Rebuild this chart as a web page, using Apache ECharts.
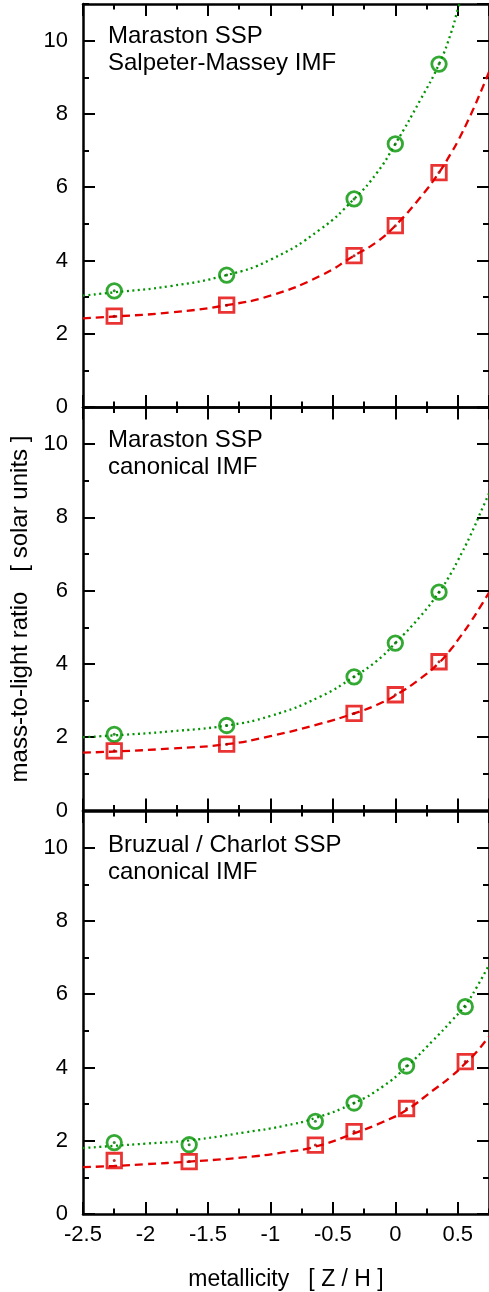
<!DOCTYPE html>
<html>
<head>
<meta charset="utf-8">
<script src="https://cdn.jsdelivr.net/npm/echarts@6/dist/echarts.min.js"></script>
<style>
html,body{margin:0;padding:0;background:#fff;}
#c{width:489px;height:1292px;}
</style>
</head>
<body>
<div id="c"></div>
<script>
// ---- data ----
const panelTitles = ['Maraston SSP\nSalpeter-Massey IMF', 'Maraston SSP\ncanonical IMF', 'Bruzual / Charlot SSP\ncanonical IMF'];
const xTickLabels = ['-2.5', '-2', '-1.5', '-1', '-0.5', '0', '0.5'];
const yTickLabels = ['0', '2', '4', '6', '8', '10'];

// Maraston metallicities
const maraX = [-2.25, -1.35, -0.33, 0, 0.35];
const p1Green = [3.17, 3.60, 5.68, 7.18, 9.36];
const p1Red = [2.48, 2.78, 4.13, 4.95, 6.40];
const p2Green = [2.08, 2.32, 3.65, 4.57, 5.96];
const p2Red = [1.63, 1.81, 2.65, 3.16, 4.06];
// Bruzual / Charlot metallicities
const bcX = [-2.25, -1.65, -0.64, -0.33, 0.09, 0.56];
const p3Green = [1.95, 1.89, 2.53, 3.03, 4.04, 5.66];
const p3Red = [1.46, 1.43, 1.88, 2.25, 2.88, 4.16];

// fit curves
const fitX12 = [-2.5, -2.25, -1.8, -1.35, -1.0, -0.6, -0.33, -0.15, 0, 0.2, 0.35, 0.45, 0.5, 0.6, 0.7, 0.75];
const p1GreenFit = [3.04, 3.13, 3.30, 3.60, 4.02, 4.85, 5.68, 6.38, 7.18, 8.38, 9.36, 10.25, 10.85, 11.95, 13.1, 13.7];
const p1RedFit = [2.42, 2.47, 2.58, 2.78, 3.04, 3.58, 4.13, 4.50, 4.95, 5.72, 6.40, 6.95, 7.25, 7.95, 8.73, 9.15];
const p2GreenFit = [2.00, 2.05, 2.16, 2.32, 2.58, 3.11, 3.65, 4.08, 4.57, 5.30, 5.96, 6.50, 6.82, 7.50, 8.27, 8.65];
const p2RedFit = [1.58, 1.61, 1.69, 1.81, 2.03, 2.37, 2.65, 2.88, 3.14, 3.60, 4.03, 4.42, 4.65, 5.13, 5.67, 5.95];
const fitX3 = [-2.5, -2.25, -2.0, -1.65, -1.2, -0.9, -0.64, -0.33, -0.1, 0.09, 0.3, 0.45, 0.56, 0.65, 0.75];
const p3GreenFit = [1.80, 1.86, 1.92, 2.01, 2.23, 2.40, 2.62, 3.03, 3.48, 4.02, 4.73, 5.27, 5.70, 6.18, 6.80];
const p3RedFit = [1.28, 1.31, 1.36, 1.43, 1.55, 1.68, 1.84, 2.20, 2.51, 2.84, 3.37, 3.76, 4.11, 4.42, 4.85];

// ---- styling / layout ----
const GREEN = '#009400';
const RED = '#e50000';
const FONT = '"Liberation Sans", Arial, Helvetica, sans-serif';
const gridTops = [4, 407.5, 811];
const titleTops = [23, 426.5, 831.5];
const GRID_LEFT = 83, GRID_W = 409, GRID_H = 403;
const XMIN = -2.5, XMAX = 0.75, YMIN = 0, YMAX = 11;

const panels = [
  {mx: maraX, g: p1Green, r: p1Red, fx: fitX12, gf: p1GreenFit, rf: p1RedFit},
  {mx: maraX, g: p2Green, r: p2Red, fx: fitX12, gf: p2GreenFit, rf: p2RedFit},
  {mx: bcX, g: p3Green, r: p3Red, fx: fitX3, gf: p3GreenFit, rf: p3RedFit}
];

const zip = (xs, ys) => xs.map((x, i) => [x, ys[i]]);

const grid = [], xAxis = [], yAxis = [], series = [], title = [];
const lineStyle = {color: '#000', width: 2.5};

panels.forEach((p, i) => {
  grid.push({left: GRID_LEFT, top: gridTops[i], width: GRID_W, height: GRID_H, containLabel: false});
  title.push({
    text: panelTitles[i], left: 108, top: titleTops[i], padding: 0,
    textStyle: {fontFamily: FONT, fontSize: 24, fontWeight: 'normal', color: '#000', lineHeight: 27}
  });
  const isBottom = i === 2;
  const base = xAxis.length;
  xAxis.push({
    type: 'value', gridIndex: i, min: XMIN, max: XMAX, interval: 0.5, position: 'bottom',
    axisLine: {show: true, onZero: false, lineStyle},
    axisTick: {show: true, inside: true, length: 12, lineStyle: {color: '#000', width: 2}},
    splitLine: {show: false},
    axisLabel: {
      show: isBottom, showMaxLabel: false, margin: 10, color: '#000', fontFamily: FONT, fontSize: 22,
      formatter: v => { const k = Math.round((v - XMIN) / 0.5); return (Math.abs(v - (XMIN + k * 0.5)) < 1e-6 && k < xTickLabels.length) ? xTickLabels[k] : ''; }
    },
    name: isBottom ? 'metallicity   [ Z / H ]' : '',
    nameLocation: 'middle', nameGap: 54,
    nameTextStyle: {fontFamily: FONT, fontSize: 23, color: '#000'}
  });
  xAxis.push({
    type: 'value', gridIndex: i, min: XMIN, max: XMAX, interval: 0.25, position: 'bottom',
    axisLine: {show: false, onZero: false},
    axisTick: {show: true, inside: true, length: 5.5, lineStyle: {color: '#000', width: 2}},
    splitLine: {show: false}, axisLabel: {show: false}
  });
  xAxis.push({
    type: 'value', gridIndex: i, min: XMIN, max: XMAX, interval: 0.5, position: 'top',
    axisLine: {show: true, onZero: false, lineStyle},
    axisTick: {show: true, inside: true, length: 12, lineStyle: {color: '#000', width: 2}},
    splitLine: {show: false}, axisLabel: {show: false}
  });
  xAxis.push({
    type: 'value', gridIndex: i, min: XMIN, max: XMAX, interval: 0.25, position: 'top',
    axisLine: {show: false, onZero: false},
    axisTick: {show: true, inside: true, length: 5.5, lineStyle: {color: '#000', width: 2}},
    splitLine: {show: false}, axisLabel: {show: false}
  });
  const ybase = yAxis.length;
  yAxis.push({
    type: 'value', gridIndex: i, min: YMIN, max: YMAX, interval: 2, position: 'left',
    axisLine: {show: true, onZero: false, lineStyle},
    axisTick: {show: true, inside: true, length: 12, lineStyle: {color: '#000', width: 2}},
    splitLine: {show: false},
    axisLabel: {
      show: true, showMaxLabel: false, margin: 15, color: '#000', fontFamily: FONT, fontSize: 22,
      formatter: v => { const k = Math.round(v / 2); return (Math.abs(v - k * 2) < 1e-6 && k < yTickLabels.length) ? yTickLabels[k] : ''; }
    },
    name: i === 1 ? 'mass-to-light ratio   [ solar units ]' : '',
    nameLocation: 'middle', nameGap: 42,
    nameTextStyle: {fontFamily: FONT, fontSize: 24, color: '#000'}
  });
  yAxis.push({
    type: 'value', gridIndex: i, min: YMIN, max: YMAX, interval: 1, position: 'left',
    axisLine: {show: false, onZero: false},
    axisTick: {show: true, inside: true, length: 6, lineStyle: {color: '#000', width: 2}},
    splitLine: {show: false}, axisLabel: {show: false}
  });
  yAxis.push({
    type: 'value', gridIndex: i, min: YMIN, max: YMAX, interval: 2, position: 'right',
    axisLine: {show: true, onZero: false, lineStyle},
    axisTick: {show: true, inside: true, length: 12, lineStyle: {color: '#000', width: 2}},
    splitLine: {show: false}, axisLabel: {show: false}
  });
  yAxis.push({
    type: 'value', gridIndex: i, min: YMIN, max: YMAX, interval: 1, position: 'right',
    axisLine: {show: false, onZero: false},
    axisTick: {show: true, inside: true, length: 6, lineStyle: {color: '#000', width: 2}},
    splitLine: {show: false}, axisLabel: {show: false}
  });

  const ax = {xAxisIndex: base, yAxisIndex: ybase};
  series.push(Object.assign({
    type: 'line', data: zip(p.fx, p.gf), showSymbol: false, symbol: 'none', smooth: 0.5,
    clip: true, lineStyle: {color: GREEN, width: 2.3, type: [2, 3.5], cap: 'butt'}, z: 2, silent: true
  }, ax));
  series.push(Object.assign({
    type: 'line', data: zip(p.fx, p.rf), showSymbol: false, symbol: 'none', smooth: 0.5,
    clip: true, lineStyle: {color: RED, width: 2.3, type: [8, 5]}, z: 2, silent: true
  }, ax));
  series.push(Object.assign({
    type: 'scatter', data: zip(p.mx, p.g), symbol: 'circle', symbolSize: 14.5,
    itemStyle: {color: 'rgba(255,255,255,0)', borderColor: GREEN, borderWidth: 2.8}, z: 3, silent: true
  }, ax));
  series.push(Object.assign({
    type: 'scatter', data: zip(p.mx, p.r), symbol: 'rect', symbolSize: 14.5,
    itemStyle: {color: 'rgba(255,255,255,0)', borderColor: RED, borderWidth: 2.8}, z: 3, silent: true
  }, ax));
  series.push(Object.assign({
    type: 'scatter', data: zip(p.mx, p.g), symbol: 'circle', symbolSize: 3,
    itemStyle: {color: '#0a6a0a'}, z: 4, silent: true
  }, ax));
  series.push(Object.assign({
    type: 'scatter', data: zip(p.mx, p.r), symbol: 'circle', symbolSize: 3,
    itemStyle: {color: '#a00000'}, z: 4, silent: true
  }, ax));
});

const chart = echarts.init(document.getElementById('c'), null, {renderer: 'canvas'});
chart.setOption({
  animation: false,
  backgroundColor: '#fff',
  textStyle: {fontFamily: FONT},
  title, grid, xAxis, yAxis, series
});
</script>
</body>
</html>
